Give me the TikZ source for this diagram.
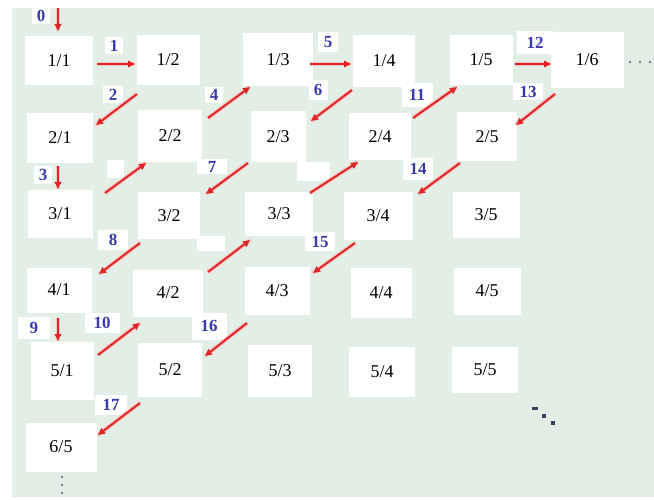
\documentclass[tikz,border=0pt]{standalone}
\usepackage{fontspec}
\setmainfont{Liberation Serif}
\usetikzlibrary{arrows.meta}
\definecolor{panel}{RGB}{227,239,230}
\definecolor{arrred}{RGB}{222,38,38}
\definecolor{lblblue}{RGB}{58,58,172}
\definecolor{dotc}{RGB}{60,64,96}
\tikzset{
  frac/.style={fill=white, inner sep=0pt, text=black, font=\fontsize{18}{20}\selectfont},
  lbl/.style={fill=white, inner sep=0pt, text=lblblue, font=\fontsize{17}{18}\selectfont\bfseries},
  blank/.style={fill=white, inner sep=0pt},
  arr/.style={draw=arrred, line width=2pt, -{Triangle[length=7pt,width=6.5pt]},
    preaction={draw=arrred!25, line width=4.5pt, arrows=-}},
  dotmark/.style={fill=dotc, draw=none}
}
\begin{document}
\begin{tikzpicture}[x=1pt,y=-1pt]
\useasboundingbox (0,0) rectangle (654,500);
\fill[white] (0,0) rectangle (654,500);
\fill[panel] (12,8) rectangle (654,497);

% fraction boxes
\node[frac, minimum width=68pt, minimum height=49pt] (n11) at (59,61) {1/1};
\node[frac, minimum width=63pt, minimum height=50pt] (n12) at (168,60) {1/2};
\node[frac, minimum width=70pt, minimum height=53pt] (n13) at (278,60) {1/3};
\node[frac, minimum width=62pt, minimum height=52pt] (n14) at (384,61) {1/4};
\node[frac, minimum width=63pt, minimum height=50pt] (n15) at (481,60) {1/5};
\node[frac, minimum width=73pt, minimum height=56pt] (n16) at (587,60) {1/6};

\node[frac, minimum width=66pt, minimum height=50pt] (n21) at (60,138) {2/1};
\node[frac, minimum width=64pt, minimum height=52pt] (n22) at (170,136) {2/2};
\node[frac, minimum width=55pt, minimum height=51pt] (n23) at (278,137) {2/3};
\node[frac, minimum width=62pt, minimum height=47pt] (n24) at (380,137) {2/4};
\node[frac, minimum width=60pt, minimum height=49pt] (n25) at (487,137) {2/5};

\node[frac, minimum width=65pt, minimum height=48pt] (n31) at (60,214) {3/1};
\node[frac, minimum width=62pt, minimum height=47pt] (n32) at (169,216) {3/2};
\node[frac, minimum width=68pt, minimum height=44pt] (n33) at (279,214) {3/3};
\node[frac, minimum width=69pt, minimum height=48pt] (n34) at (378,216) {3/4};
\node[frac, minimum width=67pt, minimum height=46pt] (n35) at (486,215) {3/5};

\node[frac, minimum width=65pt, minimum height=45pt] (n41) at (59,290) {4/1};
\node[frac, minimum width=70pt, minimum height=47pt] (n42) at (168,293) {4/2};
\node[frac, minimum width=65pt, minimum height=48pt] (n43) at (277,291) {4/3};
\node[frac, minimum width=61pt, minimum height=50pt] (n44) at (381,293) {4/4};
\node[frac, minimum width=67pt, minimum height=47pt] (n45) at (487,291) {4/5};

\node[frac, minimum width=63pt, minimum height=58pt] (n51) at (62,371) {5/1};
\node[frac, minimum width=64pt, minimum height=54pt] (n52) at (170,370) {5/2};
\node[frac, minimum width=64pt, minimum height=52pt] (n53) at (280,371) {5/3};
\node[frac, minimum width=66pt, minimum height=50pt] (n54) at (382,372) {5/4};
\node[frac, minimum width=66pt, minimum height=46pt] (n55) at (485,370) {5/5};

\node[frac, minimum width=71pt, minimum height=49pt] (n65) at (61,447) {6/5};

% arrow end points
\coordinate (s0) at (58,8);    \coordinate (e0) at (58,31);
\coordinate (s1) at (97,64);   \coordinate (e1) at (135,64);
\coordinate (s2) at (137,94);  \coordinate (e2) at (96,125);
\coordinate (s3) at (58,166);  \coordinate (e3) at (58,189);
\coordinate (sb1) at (105,193); \coordinate (eb1) at (146,163);
\coordinate (s4) at (208,118); \coordinate (e4) at (250,87);
\coordinate (s5) at (310,64);  \coordinate (e5) at (351,64);
\coordinate (s6) at (352,90);  \coordinate (e6) at (311,121);
\coordinate (s7) at (248,163); \coordinate (e7) at (206,194);
\coordinate (sb2) at (310,193); \coordinate (eb2) at (358,162);
\coordinate (s8) at (140,243); \coordinate (e8) at (99,274);
\coordinate (sb3) at (208,272); \coordinate (eb3) at (250,240);
\coordinate (s9) at (58,318);  \coordinate (e9) at (58,341);
\coordinate (s10) at (98,355); \coordinate (e10) at (140,323);
\coordinate (s11) at (413,118); \coordinate (e11) at (457,87);
\coordinate (s12) at (515,64); \coordinate (e12) at (551,64);
\coordinate (s13) at (555,94); \coordinate (e13) at (516,125);
\coordinate (s14) at (460,163); \coordinate (e14) at (418,194);
\coordinate (s15) at (355,243); \coordinate (e15) at (313,273);
\coordinate (s16) at (247,323); \coordinate (e16) at (205,356);
\coordinate (s17) at (140,403); \coordinate (e17) at (98,435);

% labels
\node[lbl, minimum width=18pt, minimum height=17pt] (l0) at (41,16) {0};
\node[lbl, minimum width=18pt, minimum height=17pt] (l1) at (114,46) {1};
\node[lbl, minimum width=20pt, minimum height=17pt] (l2) at (113,95) {2};
\node[lbl, minimum width=18pt, minimum height=18pt] (l3) at (43,175) {3};
\node[lbl, minimum width=18pt, minimum height=16pt] (l4) at (214,95) {4};
\node[lbl, minimum width=20pt, minimum height=20pt] (l5) at (328,42) {5};
\node[lbl, minimum width=19pt, minimum height=20pt] (l6) at (318,90) {6};
\node[lbl, minimum width=30pt, minimum height=15pt] (l7) at (212,167) {7};
\node[lbl, minimum width=30pt, minimum height=20pt] (l8) at (113,240) {8};
\node[lbl, minimum width=32pt, minimum height=22pt] (l9) at (34,328) {9};
\node[lbl, minimum width=35pt, minimum height=20pt] (l10) at (102,323) {10};
\node[lbl, minimum width=31pt, minimum height=24pt] (l11) at (417,95) {11};
\node[lbl, minimum width=36pt, minimum height=23pt] (l12) at (535,43) {12};
\node[lbl, minimum width=30pt, minimum height=17pt] (l13) at (528,92) {13};
\node[lbl, minimum width=30pt, minimum height=22pt] (l14) at (418,169) {14};
\node[lbl, minimum width=30pt, minimum height=19pt] (l15) at (320,242) {15};
\node[lbl, minimum width=35pt, minimum height=27pt] (l16) at (209,326) {16};
\node[lbl, minimum width=32pt, minimum height=20pt] (l17) at (111,405) {17};
\node[blank, minimum width=17pt, minimum height=18pt] (b1) at (115.5,169) {};
\node[blank, minimum width=33pt, minimum height=19pt] (b2) at (313,172) {};
\node[blank, minimum width=28pt, minimum height=15pt] (b3) at (211,244) {};

% arrows
\foreach \k in {0,1,2,3,b1,4,5,6,7,b2,8,b3,9,10,11,12,13,14,15,16,17}
  \draw[arr] (s\k) -- (e\k);

% dots
\foreach \xx in {630,640,650} \fill[dotc!70] (\xx,62) circle (1.4pt);
\foreach \yy in {477,485,493} \fill[dotc!70] (62,\yy) circle (1.4pt);
\fill[dotc] (532,407) rectangle (538,410);
\fill[dotc] (542,414) rectangle (546,418);
\fill[dotc] (551,421) rectangle (555,425);
\end{tikzpicture}
\end{document}
